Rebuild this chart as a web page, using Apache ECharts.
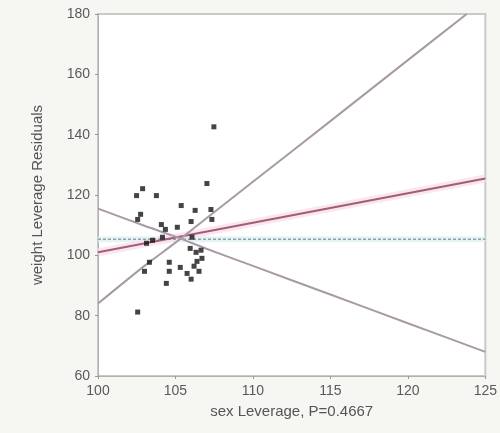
<!DOCTYPE html>
<html><head><meta charset="utf-8">
<script src="https://cdn.jsdelivr.net/npm/echarts@6/dist/echarts.min.js"></script>
<style>html,body{margin:0;padding:0;background:#f6f7f3;}#c{width:500px;height:433px;}</style>
</head><body><div id="c"></div>
<script>
var pointX = [107.48,107.03,102.88,102.49,103.77,105.37,106.27,107.29,102.75,102.56,104.09,104.35,105.12,106.01,107.35,103.13,103.52,104.16,106.07,105.95,106.33,106.65,103.32,104.60,106.39,103.00,104.60,105.31,105.75,106.52,104.41,106.01,102.56,106.71,106.20];
var pointY = [142.6,123.8,122.1,119.8,119.8,116.5,114.9,115.2,113.6,111.9,110.2,108.6,109.3,111.2,111.9,104.0,105.0,106.0,106.0,102.3,101.0,101.7,97.7,97.7,98.0,94.7,94.7,96.0,94.0,94.7,90.7,92.1,81.2,99.0,96.4];
var fitX = [100,125];
var fitY = [101,125.5];
var meanX = [100,125];
var meanY = [105.3,105.3];
var upperCurveX = [100,103,105,107,110,115,120,123.8];
var upperCurveY = [84,96.5,104.2,112.3,124.4,144.5,164.7,180];
var lowerCurveX = [100,103,105,107,110,115,120,125];
var lowerCurveY = [115.5,109.8,106.2,102.2,96.5,87,77.5,68];
var xTicks = [100,105,110,115,120,125];
var yTicks = [60,80,100,120,140,160,180];

function pairs(xs, ys){ return xs.map(function(x,i){return [x, ys[i]];}); }

var chart = echarts.init(document.getElementById('c'));
chart.setOption({
  backgroundColor:'#f6f7f3',
  animation:false,
  grid:{left:98,right:11,top:14,bottom:57,show:true,backgroundColor:'#ffffff',borderColor:'#c9cac6',borderWidth:2},
  xAxis:{type:'value',min:xTicks[0],max:xTicks[xTicks.length-1],interval:5,
    name:'sex Leverage, P=0.4667',nameLocation:'middle',nameGap:28,
    nameTextStyle:{color:'#555',fontSize:15,fontFamily:'Liberation Sans'},
    axisLine:{show:true,lineStyle:{color:'#b0b0b0',width:1}},
    axisTick:{show:true,length:3,lineStyle:{color:'#999'}},
    splitLine:{show:false},
    axisLabel:{color:'#5a5a5a',fontSize:14,fontFamily:'Liberation Sans',margin:8}},
  yAxis:{type:'value',min:yTicks[0],max:yTicks[yTicks.length-1],interval:20,
    name:'weight Leverage Residuals',nameLocation:'middle',nameGap:53,nameRotate:90,
    nameTextStyle:{color:'#555',fontSize:15,fontFamily:'Liberation Sans'},
    axisLine:{show:true,lineStyle:{color:'#b0b0b0',width:1}},
    axisTick:{show:true,length:3,lineStyle:{color:'#999'}},
    splitLine:{show:false},
    axisLabel:{color:'#5a5a5a',fontSize:14,fontFamily:'Liberation Sans',margin:8}},
  series:[
    {type:'line',data:pairs(meanX,meanY),symbol:'none',lineStyle:{color:'#ddf1f3',width:6,opacity:0.8},z:1,silent:true},
    {type:'line',data:pairs(meanX,meanY),symbol:'none',lineStyle:{color:'#8fa2a8',width:1.5,type:[3,2]},z:2},
    {type:'line',data:pairs(fitX,fitY),symbol:'none',lineStyle:{color:'#f8e0ea',width:8,opacity:0.8},z:1,silent:true},
    {type:'line',data:pairs(fitX,fitY),symbol:'none',lineStyle:{color:'#a35d78',width:2},z:3},
    {type:'line',data:pairs(upperCurveX,upperCurveY),symbol:'none',smooth:0.3,lineStyle:{color:'#a89aa6',width:2},z:3},
    {type:'line',data:pairs(lowerCurveX,lowerCurveY),symbol:'none',smooth:0.3,lineStyle:{color:'#a89aa6',width:2},z:3},
    {type:'scatter',data:pairs(pointX,pointY),symbol:'rect',symbolSize:5,itemStyle:{color:'#151515'},z:5}
  ]
});
</script></body></html>
